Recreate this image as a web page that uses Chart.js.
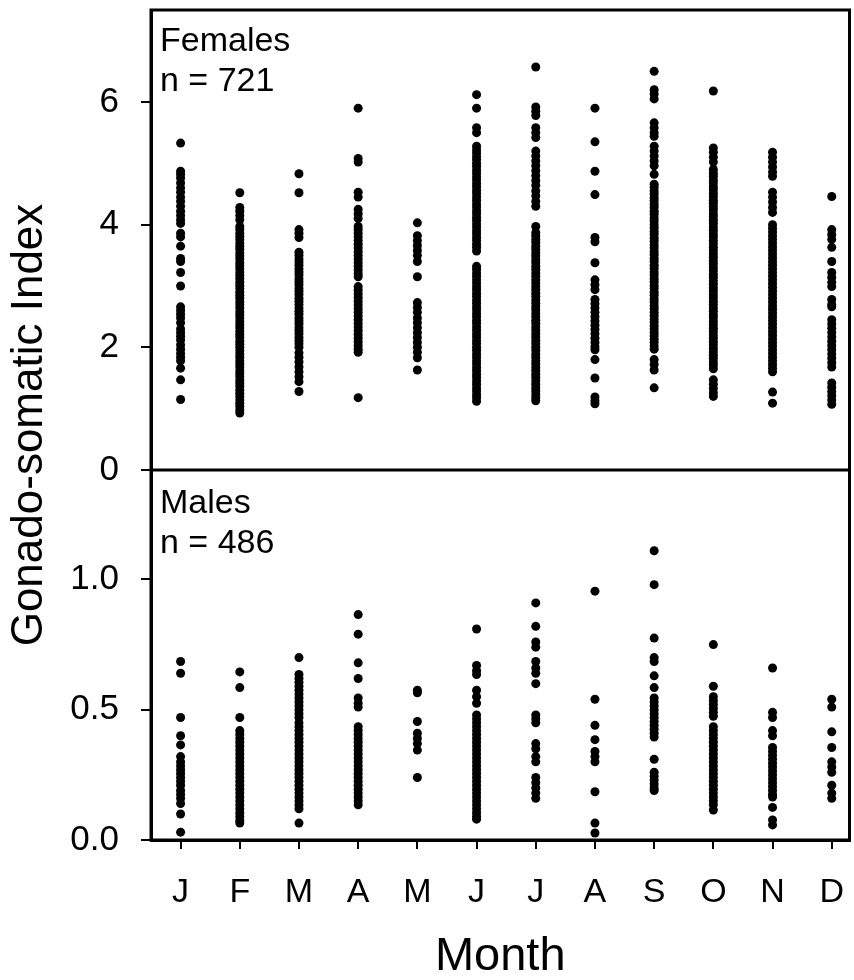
<!DOCTYPE html>
<html>
<head>
<meta charset="utf-8">
<script src="https://cdn.jsdelivr.net/npm/chart.js@4.4.1/dist/chart.umd.min.js"></script>
<style>
  body { margin: 0; background: #fff; }
</style>
</head>
<body>
<canvas id="chart" width="854" height="980"></canvas>
<script>
const months = ["J", "F", "M", "A", "M", "J", "J", "A", "S", "O", "N", "D"];
const femaleTicks = [0, 2, 4, 6];
const maleTicks = [0, 0.5, 1.0];

// female GSI, one list per month
const femJan = [5.33, 4.87, 4.82, 4.76, 4.68, 4.60, 4.53, 4.45, 4.38, 4.30, 4.22, 4.15, 4.08, 4.02, 3.86, 3.80, 3.65, 3.45, 3.40, 3.22, 3.00, 2.66, 2.60, 2.54, 2.48, 2.40, 2.30, 2.24, 2.18, 2.12, 2.04, 1.97, 1.90, 1.84, 1.78, 1.66, 1.47, 1.15];
const femFeb = [4.52, 4.28, 4.22, 4.15, 4.08, 3.97, 3.92, 3.86, 3.81, 3.76, 3.70, 3.65, 3.60, 3.54, 3.49, 3.44, 3.38, 3.33, 3.28, 3.22, 3.17, 3.12, 3.06, 3.01, 2.96, 2.90, 2.85, 2.80, 2.74, 2.69, 2.64, 2.58, 2.53, 2.48, 2.42, 2.37, 2.32, 2.26, 2.21, 2.16, 2.10, 2.05, 2.00, 1.94, 1.89, 1.84, 1.78, 1.73, 1.68, 1.62, 1.57, 1.52, 1.46, 1.41, 1.36, 1.30, 1.25, 1.20, 1.14, 1.09, 1.04, 0.98, 0.93];
const femMar = [4.83, 4.52, 3.92, 3.86, 3.79, 3.55, 3.50, 3.44, 3.39, 3.34, 3.28, 3.23, 3.18, 3.12, 3.07, 3.02, 2.96, 2.91, 2.86, 2.80, 2.75, 2.70, 2.64, 2.59, 2.54, 2.48, 2.43, 2.38, 2.32, 2.27, 2.22, 2.16, 2.11, 2.06, 2.00, 1.91, 1.84, 1.76, 1.68, 1.60, 1.52, 1.44, 1.28];
const femApr = [5.90, 5.08, 5.02, 4.53, 4.45, 4.25, 4.18, 4.10, 3.97, 3.92, 3.86, 3.80, 3.74, 3.68, 3.62, 3.56, 3.50, 3.44, 3.38, 3.32, 3.26, 3.20, 3.15, 2.99, 2.93, 2.87, 2.81, 2.75, 2.69, 2.63, 2.57, 2.51, 2.45, 2.39, 2.33, 2.27, 2.21, 2.15, 2.09, 2.03, 1.97, 1.92, 1.18];
const femMay = [4.03, 3.82, 3.74, 3.66, 3.58, 3.50, 3.40, 3.15, 2.73, 2.65, 2.57, 2.48, 2.40, 2.32, 2.24, 2.16, 2.08, 2.00, 1.92, 1.83, 1.63];
const femJun = [6.12, 5.90, 5.58, 5.50, 5.28, 5.22, 5.17, 5.11, 5.06, 5.00, 4.95, 4.89, 4.84, 4.78, 4.73, 4.67, 4.62, 4.56, 4.51, 4.45, 4.40, 4.34, 4.29, 4.23, 4.18, 4.12, 4.07, 4.01, 3.96, 3.90, 3.85, 3.79, 3.74, 3.68, 3.63, 3.57, 3.32, 3.27, 3.21, 3.16, 3.10, 3.05, 2.99, 2.94, 2.88, 2.83, 2.77, 2.72, 2.66, 2.61, 2.55, 2.50, 2.44, 2.39, 2.33, 2.28, 2.22, 2.17, 2.11, 2.06, 2.00, 1.95, 1.89, 1.84, 1.78, 1.73, 1.67, 1.62, 1.56, 1.51, 1.45, 1.40, 1.34, 1.29, 1.23, 1.18, 1.12];
const femJul = [6.57, 5.92, 5.85, 5.78, 5.58, 5.50, 5.42, 5.20, 5.12, 5.04, 4.96, 4.88, 4.80, 4.72, 4.64, 4.55, 4.47, 4.38, 4.30, 3.97, 3.87, 3.82, 3.76, 3.71, 3.65, 3.60, 3.54, 3.49, 3.43, 3.38, 3.32, 3.27, 3.21, 3.16, 3.10, 3.05, 2.99, 2.94, 2.88, 2.83, 2.77, 2.72, 2.66, 2.61, 2.55, 2.50, 2.44, 2.39, 2.33, 2.28, 2.22, 2.17, 2.11, 2.06, 2.00, 1.95, 1.89, 1.84, 1.78, 1.73, 1.67, 1.62, 1.56, 1.51, 1.45, 1.40, 1.34, 1.29, 1.23, 1.18, 1.13];
const femAug = [5.90, 5.35, 4.87, 4.49, 3.79, 3.72, 3.38, 3.10, 3.02, 2.94, 2.78, 2.71, 2.64, 2.57, 2.50, 2.43, 2.36, 2.29, 2.22, 2.15, 2.08, 2.01, 1.96, 1.80, 1.50, 1.19, 1.13, 1.08];
const femSep = [6.50, 6.20, 6.13, 6.05, 5.66, 5.58, 5.50, 5.44, 5.28, 5.20, 5.12, 5.04, 4.96, 4.82, 4.66, 4.61, 4.55, 4.50, 4.44, 4.39, 4.33, 4.28, 4.22, 4.17, 4.11, 4.06, 4.00, 3.95, 3.89, 3.84, 3.78, 3.73, 3.67, 3.62, 3.56, 3.51, 3.45, 3.40, 3.34, 3.29, 3.23, 3.18, 3.12, 3.07, 3.01, 2.96, 2.90, 2.85, 2.79, 2.74, 2.68, 2.63, 2.57, 2.52, 2.46, 2.41, 2.35, 2.30, 2.24, 2.19, 2.13, 2.08, 2.02, 1.97, 1.80, 1.72, 1.63, 1.34];
const femOct = [6.18, 5.25, 5.18, 5.10, 5.02, 4.90, 4.84, 4.79, 4.73, 4.68, 4.62, 4.57, 4.51, 4.46, 4.40, 4.35, 4.29, 4.24, 4.18, 4.13, 4.07, 4.02, 3.96, 3.91, 3.85, 3.80, 3.74, 3.69, 3.63, 3.58, 3.52, 3.47, 3.41, 3.36, 3.30, 3.25, 3.19, 3.14, 3.08, 3.03, 2.97, 2.92, 2.86, 2.81, 2.75, 2.70, 2.64, 2.59, 2.53, 2.48, 2.42, 2.37, 2.31, 2.26, 2.20, 2.15, 2.09, 2.04, 1.98, 1.93, 1.87, 1.82, 1.76, 1.71, 1.65, 1.47, 1.40, 1.33, 1.26, 1.20];
const femNov = [5.18, 5.10, 5.02, 4.94, 4.86, 4.79, 4.53, 4.45, 4.37, 4.28, 4.20, 4.00, 3.94, 3.88, 3.82, 3.76, 3.70, 3.64, 3.58, 3.52, 3.46, 3.40, 3.34, 3.28, 3.22, 3.16, 3.10, 3.04, 2.98, 2.92, 2.86, 2.80, 2.74, 2.68, 2.62, 2.56, 2.50, 2.44, 2.38, 2.32, 2.26, 2.20, 2.14, 2.08, 2.02, 1.96, 1.90, 1.84, 1.78, 1.72, 1.66, 1.60, 1.27, 1.09];
const femDec = [4.46, 3.92, 3.84, 3.76, 3.63, 3.40, 3.22, 3.14, 3.06, 2.99, 2.78, 2.70, 2.66, 2.45, 2.38, 2.31, 2.24, 2.17, 2.10, 2.03, 1.96, 1.89, 1.82, 1.75, 1.68, 1.42, 1.35, 1.28, 1.21, 1.14, 1.07];

// male GSI
const malJan = [0.685, 0.64, 0.47, 0.40, 0.365, 0.32, 0.30, 0.285, 0.27, 0.255, 0.24, 0.225, 0.21, 0.19, 0.175, 0.16, 0.14, 0.10, 0.03];
const malFeb = [0.645, 0.585, 0.47, 0.42, 0.405, 0.39, 0.375, 0.36, 0.345, 0.33, 0.315, 0.30, 0.285, 0.27, 0.255, 0.24, 0.225, 0.21, 0.195, 0.18, 0.165, 0.15, 0.135, 0.12, 0.105, 0.09, 0.075, 0.065];
const malMar = [0.70, 0.635, 0.62, 0.605, 0.59, 0.575, 0.56, 0.545, 0.53, 0.515, 0.50, 0.485, 0.47, 0.45, 0.435, 0.42, 0.405, 0.39, 0.375, 0.36, 0.345, 0.33, 0.315, 0.30, 0.285, 0.27, 0.255, 0.24, 0.225, 0.21, 0.195, 0.18, 0.165, 0.15, 0.135, 0.12, 0.065];
const malApr = [0.865, 0.79, 0.68, 0.62, 0.545, 0.525, 0.51, 0.435, 0.42, 0.405, 0.39, 0.375, 0.36, 0.345, 0.33, 0.315, 0.30, 0.285, 0.27, 0.255, 0.24, 0.225, 0.21, 0.195, 0.18, 0.165, 0.15, 0.135];
const malMay = [0.575, 0.565, 0.455, 0.41, 0.39, 0.37, 0.345, 0.24];
const malJun = [0.81, 0.67, 0.65, 0.635, 0.575, 0.55, 0.525, 0.48, 0.465, 0.45, 0.435, 0.42, 0.405, 0.39, 0.375, 0.36, 0.345, 0.33, 0.315, 0.30, 0.285, 0.27, 0.255, 0.24, 0.225, 0.21, 0.195, 0.18, 0.165, 0.15, 0.135, 0.12, 0.105, 0.09, 0.08];
const malJul = [0.91, 0.82, 0.76, 0.74, 0.685, 0.66, 0.64, 0.60, 0.48, 0.465, 0.45, 0.37, 0.35, 0.32, 0.30, 0.24, 0.22, 0.20, 0.18, 0.16];
const malAug = [0.955, 0.54, 0.44, 0.385, 0.34, 0.32, 0.30, 0.185, 0.065, 0.027];
const malSep = [1.11, 0.98, 0.775, 0.70, 0.685, 0.63, 0.585, 0.545, 0.53, 0.515, 0.50, 0.485, 0.47, 0.455, 0.44, 0.425, 0.41, 0.395, 0.31, 0.26, 0.245, 0.23, 0.215, 0.20, 0.19];
const malOct = [0.75, 0.59, 0.55, 0.535, 0.52, 0.505, 0.49, 0.475, 0.435, 0.42, 0.405, 0.39, 0.375, 0.36, 0.345, 0.33, 0.315, 0.30, 0.285, 0.27, 0.255, 0.24, 0.225, 0.21, 0.195, 0.18, 0.165, 0.15, 0.135, 0.115];
const malNov = [0.66, 0.49, 0.47, 0.42, 0.40, 0.355, 0.34, 0.325, 0.31, 0.295, 0.28, 0.265, 0.25, 0.235, 0.22, 0.205, 0.19, 0.175, 0.165, 0.125, 0.077, 0.058];
const malDec = [0.54, 0.51, 0.415, 0.355, 0.30, 0.28, 0.26, 0.21, 0.18, 0.16];

const femaleByMonth = [femJan, femFeb, femMar, femApr, femMay, femJun, femJul, femAug, femSep, femOct, femNov, femDec];
const maleByMonth = [malJan, malFeb, malMar, malApr, malMay, malJun, malJul, malAug, malSep, malOct, malNov, malDec];

function toPoints(byMonth) {
  const pts = [];
  byMonth.forEach((vals, i) => {
    vals.forEach(v => pts.push({ x: i + 1, y: v }));
  });
  return pts;
}

const font = "'Liberation Sans', Arial, sans-serif";
Chart.defaults.font.family = font;
Chart.defaults.color = '#000';

// frame, panel divider, panel labels and the shared y title
const framePlugin = {
  id: 'frame',
  afterDraw(chart) {
    const { ctx, chartArea: a, scales } = chart;
    ctx.save();
    ctx.strokeStyle = '#000';
    ctx.lineWidth = 3;
    ctx.strokeRect(a.left, a.top, a.right - a.left, a.bottom - a.top);
    const yDiv = scales.yF.bottom;
    ctx.beginPath();
    ctx.moveTo(a.left, yDiv);
    ctx.lineTo(a.right, yDiv);
    ctx.stroke();

    ctx.fillStyle = '#000';
    ctx.font = '34px ' + font;
    ctx.textAlign = 'left';
    ctx.textBaseline = 'alphabetic';
    ctx.fillText('Females', a.left + 9, scales.yF.top + 41);
    ctx.fillText('n = 721', a.left + 9, scales.yF.top + 81);
    ctx.fillText('Males', a.left + 9, scales.yM.top + 43);
    ctx.fillText('n = 486', a.left + 9, scales.yM.top + 83);

    ctx.font = '44px ' + font;
    ctx.translate(30, (a.top + a.bottom) / 2);
    ctx.rotate(-Math.PI / 2);
    ctx.textAlign = 'center';
    ctx.textBaseline = 'middle';
    ctx.fillText('Gonado-somatic Index', 0, 0);
    ctx.restore();
  }
};

const yCommon = {
  position: 'left',
  stack: 'panels',
  border: { display: true, color: '#000', width: 3 },
  grid: { drawOnChartArea: false, color: '#000', tickColor: '#000', tickLength: 10, lineWidth: 2 },
  afterFit: s => { s.width = 151; s.paddingTop = 0; s.paddingBottom = 0; }
};

new Chart(document.getElementById('chart'), {
  type: 'scatter',
  data: {
    datasets: [
      {
        label: 'Females',
        data: toPoints(femaleByMonth),
        yAxisID: 'yF',
        backgroundColor: '#000',
        borderWidth: 0,
        pointRadius: 4.5
      },
      {
        label: 'Males',
        data: toPoints(maleByMonth),
        yAxisID: 'yM',
        backgroundColor: '#000',
        borderWidth: 0,
        pointRadius: 4.5
      }
    ]
  },
  options: {
    responsive: false,
    animation: false,
    layout: { padding: { left: 0, right: 4, top: 10, bottom: 0 } },
    plugins: { legend: { display: false }, tooltip: { enabled: false } },
    scales: {
      x: {
        type: 'linear',
        min: 0.5,
        max: 12.3,
        border: { display: true, color: '#000', width: 3 },
        grid: { drawOnChartArea: false, color: '#000', tickColor: '#000', tickLength: 9, lineWidth: 2 },
        afterBuildTicks: s => { s.ticks = months.map((m, i) => ({ value: i + 1 })); },
        ticks: {
          autoSkip: false,
          maxRotation: 0,
          padding: 23,
          font: { size: 34 },
          callback: v => months[v - 1]
        },
        title: { display: true, text: 'Month', font: { size: 47 }, padding: { top: 0, bottom: -5 } },
        afterFit: s => { s.height = 140; s.paddingLeft = 0; s.paddingRight = 0; }
      },
      yM: {
        ...yCommon,
        type: 'linear',
        min: 0,
        max: 1.42,
        stackWeight: 370,
        afterBuildTicks: s => { s.ticks = maleTicks.map(v => ({ value: v })); },
        ticks: { padding: 22, font: { size: 35 }, callback: v => v.toFixed(1) }
      },
      yF: {
        ...yCommon,
        type: 'linear',
        min: 0,
        max: 7.5,
        stackWeight: 460,
        afterBuildTicks: s => { s.ticks = femaleTicks.map(v => ({ value: v })); },
        ticks: { padding: 22, font: { size: 35 }, callback: v => String(v) }
      }
    }
  },
  plugins: [framePlugin]
});
</script>
</body>
</html>
